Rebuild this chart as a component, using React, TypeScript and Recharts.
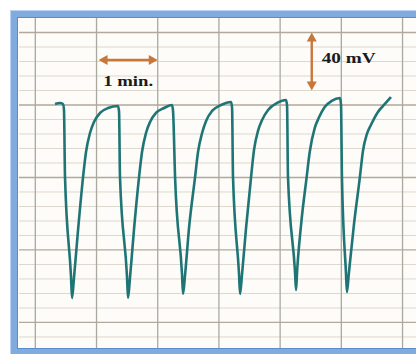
import React from 'react';
import { LineChart, Line, XAxis, YAxis, ReferenceLine } from 'recharts';

// Recorded trace: time (s) and membrane potential (mV)
const timeS = [
  19.3, 24.2, 27.1,
  28.1, 29.1, 35.0, 36.0,
  37.9, 41.9, 46.8, 49.7, 53.6, 57.5, 63.4, 71.3, 81.1,
  82.1, 83.0, 89.9, 90.9,
  92.8, 96.7, 101.7, 104.6, 108.5, 112.5, 118.3, 126.2, 134.0,
  135.0, 137.0, 143.8, 144.8,
  146.8, 150.7, 156.6, 159.5, 163.5, 167.4, 173.3, 182.1, 191.9,
  192.9, 193.8, 199.7, 200.7,
  202.6, 206.6, 211.5, 214.4, 218.3, 222.3, 228.2, 237.0, 245.8,
  246.8, 247.7, 254.6, 255.6,
  256.6, 260.5, 266.0, 269.0, 273.9, 277.8, 283.7, 290.5, 298.7,
  299.7, 300.6, 304.5, 305.5,
  307.4, 312.3, 318.2, 321.2, 325.1, 329.0, 335.9, 342.7, 348.6,
];
const voltsMV = [
  0.7, 1.4, 0.7,
  -3.4, -49.7, -118.6, -133.1,
  -119.3, -86.2, -49.7, -32.4, -19.3, -11.7, -5.5, -2.1, -0.7,
  -4.8, -49.7, -118.6, -133.1,
  -119.3, -86.2, -49.7, -32.4, -19.3, -11.7, -5.5, -2.1, 0,
  -4.1, -49.7, -116.6, -130.3,
  -117.2, -84.8, -49.7, -32.4, -19.3, -11.0, -4.1, 0, 2.1,
  -2.1, -49.7, -116.6, -130.3,
  -117.2, -84.8, -49.7, -31.0, -17.9, -10.3, -3.4, 1.4, 3.4,
  -0.7, -49.7, -115.2, -127.6,
  -115.2, -82.8, -49.7, -32.4, -15.9, -9.0, -1.4, 2.8, 4.8,
  0, -49.7, -115.2, -129.0,
  -115.9, -82.8, -49.7, -31.7, -20.0, -13.8, -4.8, 0.7, 5.5,
];

// Chart paper grid
const majorTimeS = [0, 60, 120, 180, 240, 300, 360];
const majorMV = [50, 0, -50, -100, -150];
const minorMV = [40, 30, 20, 10, -10, -20, -30, -40, -60, -70, -80, -90, -110, -120, -130, -140, -160];

// Scale bars
const timeBarS = [62, 120];
const timeBarMV = 31;
const timeBarLabel = '1 min.';
const voltBarS = 271;
const voltBarMV = [10, 50];
const voltBarLabel = '40 mV';

const data = timeS.map((t, i) => ({ t, v: voltsMV[i] }));

const ARROW = '#c8773a';
const FONT = '"Liberation Serif", "DejaVu Serif", serif';

const makeArrow = (label: string, kind: 'h' | 'v') => (props: any) => {
  const { x1, y1, x2, y2 } = props;
  const dx = x2 - x1;
  const dy = y2 - y1;
  const len = Math.hypot(dx, dy) || 1;
  const ux = dx / len;
  const uy = dy / len;
  const px = -uy;
  const py = ux;
  const hl = 9;
  const hw = 5;
  const head = (tx: number, ty: number, sx: number, sy: number) =>
    `${tx},${ty} ${tx - sx * hl + px * hw},${ty - sy * hl + py * hw} ${tx - sx * hl - px * hw},${ty - sy * hl - py * hw}`;
  const mx = (x1 + x2) / 2;
  const my = (y1 + y2) / 2;
  return (
    <g>
      <line x1={x1 + ux * 6} y1={y1 + uy * 6} x2={x2 - ux * 6} y2={y2 - uy * 6} stroke={ARROW} strokeWidth={2.4} />
      <polygon points={head(x2, y2, ux, uy)} fill={ARROW} />
      <polygon points={head(x1, y1, -ux, -uy)} fill={ARROW} />
      {kind === 'h' ? (
        <text x={mx} y={my + 26} textAnchor="middle" fontFamily={FONT} fontWeight="bold" fontSize={15}
          fill="#1b1b1b" textLength={50} lengthAdjust="spacingAndGlyphs">{label}</text>
      ) : (
        <text x={mx + 10} y={my + 1.5} textAnchor="start" fontFamily={FONT} fontWeight="bold" fontSize={15}
          fill="#1b1b1b" textLength={54} lengthAdjust="spacingAndGlyphs">{label}</text>
      )}
    </g>
  );
};

export default function App() {
  return (
    <div style={{ position: 'absolute', left: 0, top: 0, width: 416, height: 354, background: '#ffffff', overflow: 'hidden' }}>
      <div style={{ position: 'absolute', left: 16, top: 16, width: 410, height: 336, background: '#fdfcf8' }} />
      <div style={{ position: 'absolute', left: 0, top: 0 }}>
        <LineChart width={416} height={354} data={data} margin={{ top: 18, right: 0, bottom: 4, left: 19 }}>
          <XAxis type="number" dataKey="t" domain={[-16, 373.2]} hide allowDataOverflow />
          <YAxis type="number" domain={[-169, 60]} hide allowDataOverflow />
          {minorMV.map((v) => (
            <ReferenceLine key={'mn' + v} y={v} stroke="#ddd8ce" strokeWidth={1} />
          ))}
          {majorMV.map((v) => (
            <ReferenceLine key={'mj' + v} y={v} stroke="#b2a99a" strokeWidth={1.3} />
          ))}
          {majorTimeS.map((t) => (
            <ReferenceLine key={'vt' + t} x={t} stroke="#a9a9a0" strokeWidth={1.3} />
          ))}
          <ReferenceLine
            segment={[{ x: timeBarS[0], y: timeBarMV }, { x: timeBarS[1], y: timeBarMV }]}
            shape={makeArrow(timeBarLabel, 'h')}
          />
          <ReferenceLine
            segment={[{ x: voltBarS, y: voltBarMV[1] }, { x: voltBarS, y: voltBarMV[0] }]}
            shape={makeArrow(voltBarLabel, 'v')}
          />
          <Line type="monotone" dataKey="v" stroke="#1f7576" strokeWidth={2.6} dot={false} isAnimationActive={false} />
        </LineChart>
      </div>
      <div
        style={{
          position: 'absolute', left: 11, top: 11, width: 440, height: 344, boxSizing: 'border-box',
          border: '6px solid #7fabdf', boxShadow: 'inset 0 0 0 1px #5a8ccc, 0 0 0 1px #b9d3f0', pointerEvents: 'none',
        }}
      />
    </div>
  );
}
